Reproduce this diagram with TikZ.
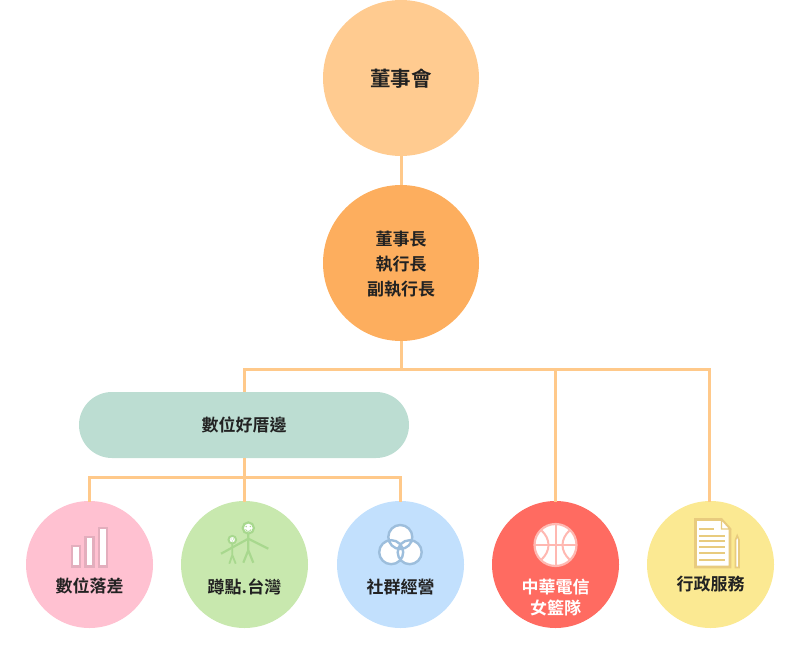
\documentclass[tikz,border=0pt]{standalone}
\usepackage{fontspec}
\setmainfont{Noto Sans CJK TC}[BoldFont={Noto Sans CJK TC Bold}]
\definecolor{linec}{HTML}{FFC98A}
\definecolor{textc}{HTML}{222222}
\definecolor{topc}{HTML}{FFCB90}
\definecolor{ceoc}{HTML}{FDAE5E}
\definecolor{pillc}{HTML}{BCDDD2}
\definecolor{pinkc}{HTML}{FFC1D1}
\definecolor{greenc}{HTML}{C8E8AE}
\definecolor{bluec}{HTML}{C2E0FD}
\definecolor{redc}{HTML}{FF6B61}
\definecolor{yellowc}{HTML}{FBE992}
\definecolor{pinkline}{HTML}{E3AEBD}
\definecolor{greenline}{HTML}{A8D88E}
\definecolor{blueline}{HTML}{9DBEDC}
\definecolor{redline}{HTML}{FFB8B1}
\definecolor{yellowline}{HTML}{E8CB7E}
\tikzset{
  unit/.style={circle, minimum size=127pt, inner sep=0pt},
  head/.style={circle, minimum size=156pt, inner sep=0pt},
  lab/.style={align=center, inner sep=0pt, text=textc, font=\bfseries\fontsize{17}{21}\selectfont},
  conn/.style={draw=linec, line width=3pt},
}
\begin{document}
\begin{tikzpicture}[x=1pt,y=-1pt]
\useasboundingbox (0,0) rectangle (800,650);
\node[head, fill=topc] (1) at (401,78) {};
\node[head, fill=ceoc] (2) at (401,263) {};
\node[lab, fill=pillc, minimum width=330pt, minimum height=66pt, rounded corners=33pt] (3) at (244,425) {數位好厝邊};
\node[unit, fill=pinkc] (4) at (89.5,564.5) {};
\node[unit, fill=greenc] (5) at (244.5,564.5) {};
\node[unit, fill=bluec] (6) at (400.5,564.5) {};
\node[unit, fill=redc] (7) at (555.5,564.5) {};
\node[unit, fill=yellowc] (8) at (710.5,564.5) {};
\node[lab, font=\bfseries\fontsize{20.5}{26}\selectfont] (1t) at (401,79) {董事會};
\node[lab, font=\bfseries\fontsize{17}{25}\selectfont] (2t) at (401,264) {董事長\\執行長\\副執行長};
\node[lab] (4t) at (89.5,586) {數位落差};
\node[lab] (5t) at (244.5,587) {蹲點.台灣};
\node[lab] (6t) at (400.5,587) {社群經營};
\node[lab, text=white] (7t) at (555.5,598) {中華電信\\女籃隊};
\node[lab] (8t) at (710.5,584) {行政服務};
\coordinate (a) at (401,369.5);
\coordinate (d) at (709.5,369.5);
\coordinate (c) at (555,369.5);
\coordinate (f) at (400,477);
\coordinate (4n) at (89,502);
\coordinate (5n) at (244,502);
\coordinate (6n) at (400,502);
\coordinate (7n) at (555,502);
\coordinate (8n) at (709.5,502);
\path[conn] (1) -- (2);
\path[conn] (2) -- (a);
\path[conn] (3) |- (d) -- (8n);
\path[conn] (c) -- (7n);
\path[conn] (3) -- (5n);
\path[conn] (4n) |- (f) -- (6n);
% bars
\path[draw=pinkline, fill=white, line width=2.4pt] (72,546) rectangle (80,566.5);
\path[draw=pinkline, fill=white, line width=2.4pt] (85.5,537) rectangle (93.5,566.5);
\path[draw=pinkline, fill=white, line width=2.4pt] (99,528) rectangle (107,566.5);
% people
\path[draw=greenline, line width=2.2pt] (248.3,534) -- (248.3,550.3) (243.3,562.7) -- (248.3,550.3) -- (253.3,562.7);
\path[draw=greenline, line width=2.2pt] (221,553.7) -- (248.3,538.7) -- (268.3,548.7);
\path[draw=greenline, line width=1.8pt] (232.3,544) -- (232.3,557) (229.3,563.7) -- (232.3,555) -- (235.7,563.7);
\path[draw=greenline, fill=white, line width=2.2pt] (248.3,528) circle (5.6);
\path[draw=greenline, fill=white, line width=2pt] (232.3,539.7) circle (3.8);
\path[fill=greenline] (246.2,526.5) circle (0.8) (250.4,526.5) circle (0.8);
\path[draw=greenline, line width=0.8pt] (245.5,529.5) .. controls (247,532) and (249.6,532) .. (251.1,529.5);
\path[fill=greenline] (231.1,539) circle (0.6) (233.5,539) circle (0.6) (232.3,541) circle (0.6);
% rings
\path[fill=white] (400.3,537) circle (12) (391.2,552.2) circle (12) (409.7,552.2) circle (12);
\path[draw=blueline, line width=2.4pt] (400.3,537) circle (12) (391.2,552.2) circle (12) (409.7,552.2) circle (12);
% ball
\path[draw=redline, fill=white, line width=2.2pt] (555.5,545) circle (21);
\path[draw=redline, line width=2pt] (555.5,524) -- (555.5,566) (534.5,545) -- (576.5,545);
\path[draw=redline, line width=2pt] (541,530) .. controls (551,539) and (551,551) .. (541,560);
\path[draw=redline, line width=2pt] (570,530) .. controls (560,539) and (560,551) .. (570,560);
% sheet
\path[draw=yellowline, fill=white, line width=2.6pt] (695.5,519.5) -- (721.5,519.5) -- (730,529) -- (730,567) -- (695.5,567) -- cycle;
\path[draw=yellowline, fill=white, line width=1.4pt] (721.5,519.5) -- (721.5,529) -- (730,529) -- cycle;
\path[draw=yellowline, line width=2.2pt] (699,529) -- (714,529) (699,535.7) -- (725,535.7) (699,541.3) -- (725,541.3) (699,547.3) -- (725,547.3) (699,553.3) -- (725,553.3) (699,559.7) -- (725,559.7);
\path[draw=yellowline, fill=white, line width=1.6pt] (735.5,567.5) -- (735.5,540) -- (737.2,535.7) -- (739,540) -- (739,567.5) -- cycle;
\end{tikzpicture}
\end{document}
